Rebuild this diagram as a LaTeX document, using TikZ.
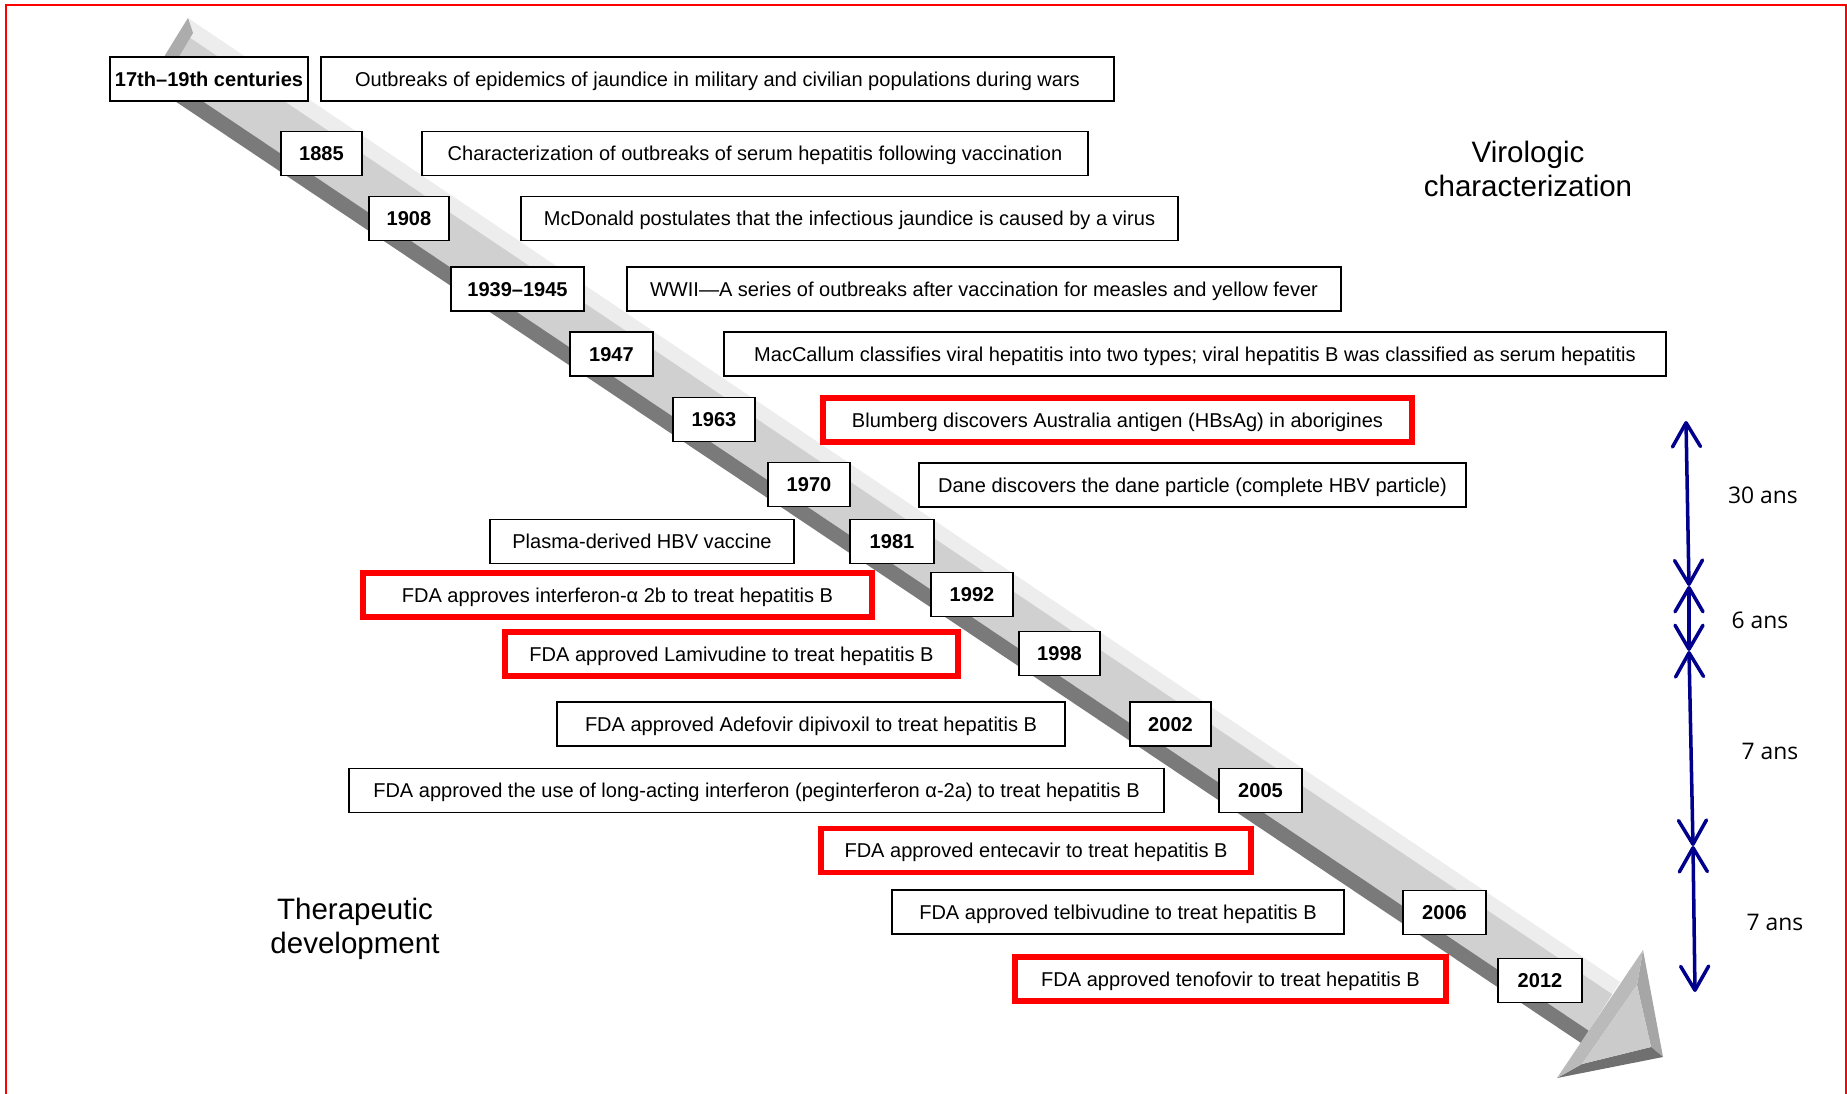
\documentclass[tikz,border=0pt]{standalone}
\usepackage{fontspec}
\setmainfont{Liberation Sans}
\newfontfamily\ansfont{Open Sans}
\usetikzlibrary{positioning,calc,arrows.meta}
\definecolor{spanblue}{RGB}{0,0,140}
\definecolor{barlight}{RGB}{237,237,237}
\definecolor{barmid}{RGB}{208,208,208}
\definecolor{bardark}{RGB}{122,122,122}
\definecolor{barend}{RGB}{172,172,172}
\definecolor{headface}{RGB}{203,203,203}
\definecolor{headright}{RGB}{166,166,166}
\definecolor{headlow}{RGB}{112,112,112}
\definecolor{headleft}{RGB}{186,186,186}
\newcommand\boxfont{\fontsize{11.4}{13.7}\selectfont}

\begin{document}
\begin{tikzpicture}[x=0.02cm,y=-0.02cm,
  year/.style={draw,line width=1.1pt,fill=white,font=\boxfont\bfseries,minimum height=0.88cm,inner sep=0pt,text height=8.2pt,text depth=0pt},
  event/.style={draw,line width=1.1pt,fill=white,font=\boxfont,minimum height=0.88cm,inner sep=0pt,text height=8.2pt,text depth=0pt},
  keyevent/.style={event,draw=red,line width=3.4pt},
  heading/.style={font=\fontsize{16.8}{19.5}\selectfont,align=center},
  spanlabel/.style={font=\ansfont\fontsize{13}{15}\selectfont},
  barb/.tip={Straight Barb[length=4.8mm,width=5.6mm,round]},
  period/.style={spanblue,line width=2pt,barb-barb}
]
\useasboundingbox (0,0) rectangle (1847,1094);

% the frame
\draw[red,line width=0.75pt] (6,1094) -- (6,5) -- (1846,5) -- (1846,1094);

% the time bar
\coordinate (UL) at (188,18);
\coordinate (LL) at (148,83);
\coordinate (UR) at (1620,982);
\coordinate (LR) at (1581,1043);
\fill[barlight] (UL) -- (UR) -- ($(UR)!0.2!(LR)$) -- ($(UL)!0.2!(LL)$) -- cycle;
\fill[barmid] ($(UL)!0.2!(LL)$) -- ($(UR)!0.2!(LR)$) -- ($(UR)!0.8!(LR)$) -- ($(UL)!0.8!(LL)$) -- cycle;
\fill[bardark] ($(UL)!0.8!(LL)$) -- ($(UR)!0.8!(LR)$) -- (LR) -- (LL) -- cycle;
\fill[barend] (UL) -- (LL) -- ($(LL)+(12,6)$) -- ($(UL)+(5,15)$) -- cycle;

% the head of the bar
\coordinate (T) at (1643,950);
\coordinate (R) at (1663,1057);
\coordinate (L) at (1557,1078);
\coordinate (t) at (1637,985);
\coordinate (r) at (1651,1047);
\coordinate (l) at (1582,1064);
\fill[headright] (T) -- (R) -- (r) -- (t) -- cycle;
\fill[headlow] (R) -- (L) -- (l) -- (r) -- cycle;
\fill[headleft] (L) -- (T) -- (t) -- (l) -- cycle;
\fill[headface] (t) -- (r) -- (l) -- cycle;

% the years
\node[year,minimum width=3.96cm] (y17) at (209,79) {17th–19th centuries};
\node[year,minimum width=1.62cm] (y1885) at (321.5,153.5) {1885};
\node[year,minimum width=1.6cm] (y1908) at (409,218.5) {1908};
\node[year,minimum width=2.66cm] (y1939) at (517.5,289) {1939–1945};
\node[year,minimum width=1.66cm] (y1947) at (611.5,354) {1947};
\node[year,minimum width=1.64cm] (y1963) at (714,419.5) {1963};
\node[year,minimum width=1.64cm] (y1970) at (809,484.5) {1970};
\node[year,minimum width=1.68cm] (y1981) at (892,541.5) {1981};
\node[year,minimum width=1.64cm] (y1992) at (972,594.5) {1992};
\node[year,minimum width=1.62cm] (y1998) at (1059.5,653.5) {1998};
\node[year,minimum width=1.62cm] (y2002) at (1170.5,724) {2002};
\node[year,minimum width=1.66cm] (y2005) at (1260.5,790.5) {2005};
\node[year,minimum width=1.66cm] (y2006) at (1444.5,912.5) {2006};
\node[year,minimum width=1.68cm] (y2012) at (1540,980.5) {2012};

% the events
\node[event,minimum width=15.86cm] (ev17) at (717.5,79) {Outbreaks of epidemics of jaundice in military and civilian populations during wars};
\node[event,minimum width=13.32cm] (ev1885) at (755,153.5) {Characterization of outbreaks of serum hepatitis following vaccination};
\node[event,minimum width=13.14cm] (ev1908) at (849.5,218.5) {McDonald postulates that the infectious jaundice is caused by a virus};
\node[event,minimum width=14.28cm] (ev1939) at (984,289) {WWII—A series of outbreaks after vaccination for measles and yellow fever};
\node[event,minimum width=18.84cm] (ev1947) at (1195,354) {MacCallum classifies viral hepatitis into two types; viral hepatitis B was classified as serum hepatitis};
\node[keyevent,minimum width=11.78cm] (ev1963) at (1117.5,420) {Blumberg discovers Australia antigen (HBsAg) in aborigines};
\node[event,minimum width=10.94cm] (ev1970) at (1192.5,485) {Dane discovers the dane particle (complete HBV particle)};
\node[event,minimum width=6.08cm] (ev1981) at (642,541.5) {Plasma-derived HBV vaccine};
\node[keyevent,minimum width=10.18cm] (ev1992) at (617.5,595) {FDA approves interferon-α 2b to treat hepatitis B};
\node[keyevent,minimum width=9.06cm] (ev1998) at (731.5,654) {FDA approved Lamivudine to treat hepatitis B};
\node[event,minimum width=10.16cm] (ev2002) at (811,724) {FDA approved Adefovir dipivoxil to treat hepatitis B};
\node[event,minimum width=16.3cm] (ev2005) at (756.5,790.5) {FDA approved the use of long-acting interferon (peginterferon α-2a) to treat hepatitis B};
\node[keyevent,minimum width=8.62cm] (ev2005b) at (1036,850.5) {FDA approved entecavir to treat hepatitis B};
\node[event,minimum width=9.04cm] (ev2006) at (1118,912) {FDA approved telbivudine to treat hepatitis B};
\node[keyevent,minimum width=8.62cm] (ev2012) at (1230.5,979) {FDA approved tenofovir to treat hepatitis B};

% the two phases
\node[heading] (viro) at (1528,169) {Virologic\\characterization};
\node[heading] (thera) at (355,929) {Therapeutic\\development};

% the time spans
\coordinate (s0) at (1686,421);
\coordinate (s1) at (1689,586);
\coordinate (s2) at (1689,651);
\coordinate (s3) at (1693,846);
\coordinate (s4) at (1695,992);
\draw[period] (s0) -- (s1);
\draw[period] (s1) -- (s2);
\draw[period] (s2) -- (s3);
\draw[period] (s3) -- (s4);
\node[spanlabel] (p30) at (1763,495) {30 ans};
\node[spanlabel] (p6) at (1760,620) {6 ans};
\node[spanlabel] (p7a) at (1770,751) {7 ans};
\node[spanlabel] (p7b) at (1775,922) {7 ans};
\end{tikzpicture}
\end{document}
